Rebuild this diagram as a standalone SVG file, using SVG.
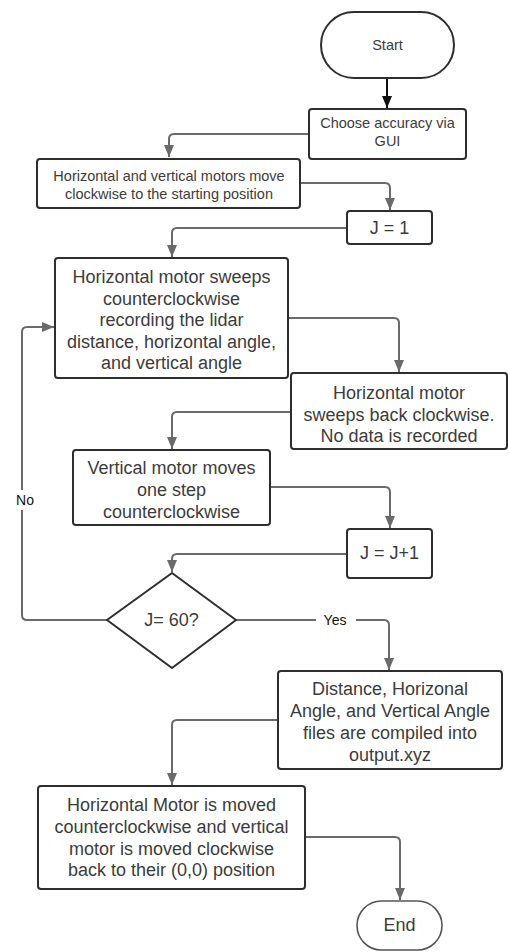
<svg xmlns="http://www.w3.org/2000/svg" width="508" height="952" viewBox="0 0 508 952">
<style>
.box{fill:#fff;stroke:#2e2e2e;stroke-width:2}
.t{font-family:"Liberation Sans",Arial,sans-serif;fill:#3c3c3c;text-anchor:middle}
.s{font-size:14.5px}
.l{font-size:18px}
.c{fill:none;stroke:#6a6a6a;stroke-width:2}
.lab{font-family:"Liberation Sans",Arial,sans-serif;fill:#111;font-size:14px;text-anchor:middle}
</style>
<defs>
<marker id="ag" viewBox="0 0 12 10" refX="12" refY="5" markerWidth="12" markerHeight="10" markerUnits="userSpaceOnUse" orient="auto"><path d="M0,0 L12,5 L0,10 z" fill="#6a6a6a"/></marker>
<marker id="ab" viewBox="0 0 12 10" refX="12" refY="5" markerWidth="12" markerHeight="10" markerUnits="userSpaceOnUse" orient="auto"><path d="M0,0 L12,5 L0,10 z" fill="#111"/></marker>
</defs>
<rect width="508" height="952" fill="#fff"/>
<g id="connectors">
<path d="M387,78 V108" fill="none" stroke="#111" stroke-width="2" marker-end="url(#ab)"/>
<path class="c" d="M309,134 H174 Q169,134 169,139 V157" marker-end="url(#ag)"/>
<path class="c" d="M300,183 H385 Q390,183 390,188 V210" marker-end="url(#ag)"/>
<path class="c" d="M347,228 H177 Q172,228 172,233 V257" marker-end="url(#ag)"/>
<path class="c" d="M288,318 H394 Q399,318 399,323 V372" marker-end="url(#ag)"/>
<path class="c" d="M291,412 H177 Q172,412 172,417 V449" marker-end="url(#ag)"/>
<path class="c" d="M270,487 H385 Q390,487 390,492 V528" marker-end="url(#ag)"/>
<path class="c" d="M347,554 H177 Q172,554 172,559 V572" marker-end="url(#ag)"/>
<path class="c" d="M107,620 H27 Q22,620 22,615 V332 Q22,327 27,327 H54" marker-end="url(#ag)"/>
<path class="c" d="M236,620 H384 Q389,620 389,625 V670" marker-end="url(#ag)"/>
<path class="c" d="M278,720 H177 Q172,720 172,725 V785" marker-end="url(#ag)"/>
<path class="c" d="M305,837 H395 Q400,837 400,842 V900" marker-end="url(#ag)"/>
<rect x="13" y="490" width="24" height="20" fill="#fff"/>
<text class="lab" x="25" y="505">No</text>
<rect x="316" y="611" width="40" height="18" fill="#fff"/>
<text class="lab" x="335" y="625">Yes</text>
</g>
<g id="start">
<rect class="box" x="321" y="12" width="133" height="66" rx="33"/>
<text class="t s" x="387.5" y="50">Start</text>
</g>
<g id="choose">
<rect class="box" x="309" y="109" width="157" height="50" rx="3"/>
<text class="t s" x="387.5" y="128">Choose accuracy via</text>
<text class="t s" x="387.5" y="146">GUI</text>
</g>
<g id="startpos">
<rect class="box" x="37" y="159" width="263" height="49" rx="3"/>
<text class="t s" x="169" y="181">Horizontal and vertical motors move</text>
<text class="t s" x="169" y="198.5">clockwise to the starting position</text>
</g>
<g id="j1">
<rect class="box" x="347" y="211" width="85" height="33" rx="3"/>
<text class="t l" x="389.5" y="234">J = 1</text>
</g>
<g id="sweep">
<rect class="box" x="55" y="258" width="233" height="120" rx="3"/>
<text class="t l" x="171.5" y="283">Horizontal motor sweeps</text>
<text class="t l" x="171.5" y="304.5">counterclockwise</text>
<text class="t l" x="171.5" y="326">recording the lidar</text>
<text class="t l" x="171.5" y="347.5">distance, horizontal angle,</text>
<text class="t l" x="171.5" y="369">and vertical angle</text>
</g>
<g id="sweepback">
<rect class="box" x="291" y="373" width="216" height="76" rx="3"/>
<text class="t l" x="399" y="399">Horizontal motor</text>
<text class="t l" x="399" y="420.5">sweeps back clockwise.</text>
<text class="t l" x="399" y="442">No data is recorded</text>
</g>
<g id="vertical">
<rect class="box" x="73" y="450" width="197" height="75" rx="3"/>
<text class="t l" x="171.5" y="474">Vertical motor moves</text>
<text class="t l" x="171.5" y="496">one step</text>
<text class="t l" x="171.5" y="518">counterclockwise</text>
</g>
<g id="jinc">
<rect class="box" x="347" y="529" width="85" height="49" rx="3"/>
<text class="t l" x="389.5" y="559">J = J+1</text>
</g>
<g id="decision">
<polygon class="box" points="172,573 236,620 172,668 107,620" stroke-linejoin="round"/>
<text class="t l" x="171.5" y="626">J= 60?</text>
</g>
<g id="compile">
<rect class="box" x="278" y="671" width="224" height="98" rx="3"/>
<text class="t l" x="390" y="695">Distance, Horizonal</text>
<text class="t l" x="390" y="717">Angle, and Vertical Angle</text>
<text class="t l" x="390" y="739">files are compiled into</text>
<text class="t l" x="390" y="761">output.xyz</text>
</g>
<g id="return">
<rect class="box" x="38" y="786" width="267" height="103" rx="3"/>
<text class="t l" x="171.5" y="811">Horizontal Motor is moved</text>
<text class="t l" x="171.5" y="833">counterclockwise and vertical</text>
<text class="t l" x="171.5" y="855">motor is moved clockwise</text>
<text class="t l" x="171.5" y="876">back to their (0,0) position</text>
</g>
<g id="end">
<rect x="357" y="901" width="85" height="49" rx="24.5" fill="#fff" stroke="#555" stroke-width="1.6"/>
<text class="t l" x="399.5" y="931">End</text>
</g>
</svg>
